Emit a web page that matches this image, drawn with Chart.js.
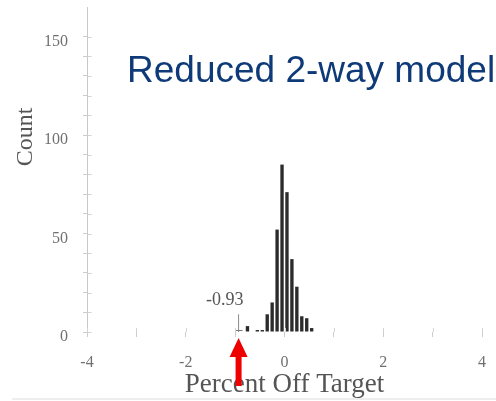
<!DOCTYPE html>
<html>
<head>
<meta charset="utf-8">
<script src="https://cdn.jsdelivr.net/npm/chart.js@4/dist/chart.umd.min.js"></script>
<style>
  html, body { margin: 0; padding: 0; background: #fff; }
  canvas { display: block; }
</style>
</head>
<body>
<canvas id="c" width="496" height="401"></canvas>
<script>
// Histogram of percent-off-target residuals (bin width 0.1)
const binCenters = [-0.75, -0.65, -0.55, -0.45, -0.35, -0.25, -0.15, -0.05, 0.05, 0.15, 0.25, 0.35, 0.45, 0.55];
const binCounts  = [3, 0, 1, 1, 9, 15, 52, 85, 71, 37, 23, 8, 7, 2];

const xTickLabels = [-4, -2, 0, 2, 4];
const yTickLabels = [0, 50, 100, 150];

// Marked observation
const markerValue = -0.93;
const markerHeight = 9;
const markerLabel = '-0.93';

const chartTitle = 'Reduced 2-way model';
const xTitle = 'Percent Off Target';
const yTitle = 'Count';

const SERIF = '"Liberation Serif", "Times New Roman", serif';
const SANS = '"Liberation Sans", Arial, sans-serif';

const overlay = {
  id: 'overlay',
  beforeDraw(chart) {
    const { ctx } = chart;
    ctx.save();
    ctx.fillStyle = '#ffffff';
    ctx.fillRect(0, 0, chart.width, chart.height);
    ctx.fillStyle = '#eeeeee';
    ctx.fillRect(12, chart.height - 3, chart.width - 12, 2);
    ctx.restore();
  },
  afterDraw(chart) {
    const { ctx, scales: { x, y } } = chart;
    const mx = x.getPixelForValue(markerValue);
    const my = y.getPixelForValue(markerHeight);
    const base = y.getPixelForValue(0);
    ctx.save();

    // chart title
    ctx.fillStyle = '#0f3a78';
    ctx.font = '37px ' + SANS;
    ctx.textBaseline = 'alphabetic';
    ctx.textAlign = 'left';
    ctx.fillText(chartTitle, 127, 82);

    // y-axis title, rotated, sitting beside the 100 tick
    ctx.save();
    ctx.translate(26, y.getPixelForValue(100) + 2);
    ctx.rotate(-Math.PI / 2);
    ctx.fillStyle = '#555';
    ctx.font = '24px ' + SERIF;
    ctx.textAlign = 'center';
    ctx.textBaseline = 'middle';
    ctx.fillText(yTitle, 0, 0);
    ctx.restore();

    // marker label
    ctx.fillStyle = '#555';
    ctx.font = '18px ' + SERIF;
    ctx.textAlign = 'right';
    ctx.textBaseline = 'alphabetic';
    ctx.fillText(markerLabel, mx + 5, my - 9);

    // small baseline stroke at the marker
    ctx.strokeStyle = '#777';
    ctx.lineWidth = 1;
    ctx.beginPath();
    ctx.moveTo(mx - 3, base - 1.5);
    ctx.lineTo(mx + 4, base - 1.5);
    ctx.stroke();

    // tick marks cross the axes: add the inner halves
    ctx.strokeStyle = '#d4d4d4';
    x.ticks.forEach(t => {
      const px = Math.round(x.getPixelForValue(t.value)) + 0.5;
      ctx.beginPath();
      ctx.moveTo(px, base - 4);
      ctx.lineTo(px, base);
      ctx.stroke();
    });
    const ax = Math.round(x.left) + 0.5;
    y.ticks.forEach(t => {
      const py = Math.round(y.getPixelForValue(t.value)) + 0.5;
      ctx.beginPath();
      ctx.moveTo(ax, py);
      ctx.lineTo(ax + 4, py);
      ctx.stroke();
    });

    // red arrow pointing up at the marker
    ctx.fillStyle = '#ee0000';
    const tip = base + 6;
    const headBase = tip + 19;
    const tail = base + 54;
    ctx.beginPath();
    ctx.moveTo(mx, tip);
    ctx.lineTo(mx + 9, headBase);
    ctx.lineTo(mx + 3, headBase);
    ctx.lineTo(mx + 3, tail);
    ctx.lineTo(mx - 3, tail);
    ctx.lineTo(mx - 3, headBase);
    ctx.lineTo(mx - 9, headBase);
    ctx.closePath();
    ctx.fill();
    ctx.restore();
  }
};

new Chart(document.getElementById('c'), {
  type: 'bar',
  data: {
    datasets: [
      {
        type: 'bar',
        data: binCenters.map((v, i) => ({ x: v, y: binCounts[i] })),
        backgroundColor: '#2b2b2b',
        barPercentage: 0.68,
        categoryPercentage: 1,
        order: 2
      },
      {
        type: 'line',
        data: [{ x: markerValue, y: 0 }, { x: markerValue, y: markerHeight }],
        borderColor: '#8a8a8a',
        borderWidth: 1,
        pointRadius: 0,
        order: 1
      }
    ]
  },
  options: {
    responsive: false,
    animation: false,
    devicePixelRatio: 1,
    layout: { padding: { top: 7, right: 14, left: 0, bottom: 0 } },
    plugins: { legend: { display: false }, tooltip: { enabled: false } },
    scales: {
      x: {
        type: 'linear',
        min: -4,
        max: 4,
        offset: false,
        afterFit: s => { s.height = 69; s.paddingLeft = 0; s.paddingRight = 0; },
        border: { display: false },
        grid: { offset: false, drawOnChartArea: false, tickLength: 5, tickColor: '#cccccc' },
        ticks: {
          stepSize: 1,
          padding: 16,
          maxRotation: 0,
          autoSkip: false,
          color: '#707070',
          font: { family: SERIF, size: 16 },
          callback: v => xTickLabels.includes(v) ? String(v) : ''
        },
        title: {
          display: true,
          text: xTitle,
          color: '#555',
          font: { family: SERIF, size: 27 },
          padding: { top: 0, bottom: 0 }
        }
      },
      y: {
        type: 'linear',
        min: 0,
        max: 165,
        afterFit: s => { s.width = 87; s.paddingTop = 0; s.paddingBottom = 0; },
        afterBuildTicks: s => { s.ticks = s.ticks.filter(t => t.value % 10 === 0); },
        border: { color: '#c8c8c8', width: 1 },
        grid: { drawOnChartArea: false, tickLength: 4, tickColor: '#cccccc' },
        ticks: {
          stepSize: 10,
          padding: 15,
          labelOffset: 5,
          autoSkip: false,
          color: '#707070',
          font: { family: SERIF, size: 16 },
          callback: v => yTickLabels.includes(v) ? String(v) : ''
        },
        title: { display: false, text: yTitle }
      }
    }
  },
  plugins: [overlay]
});
</script>
</body>
</html>
